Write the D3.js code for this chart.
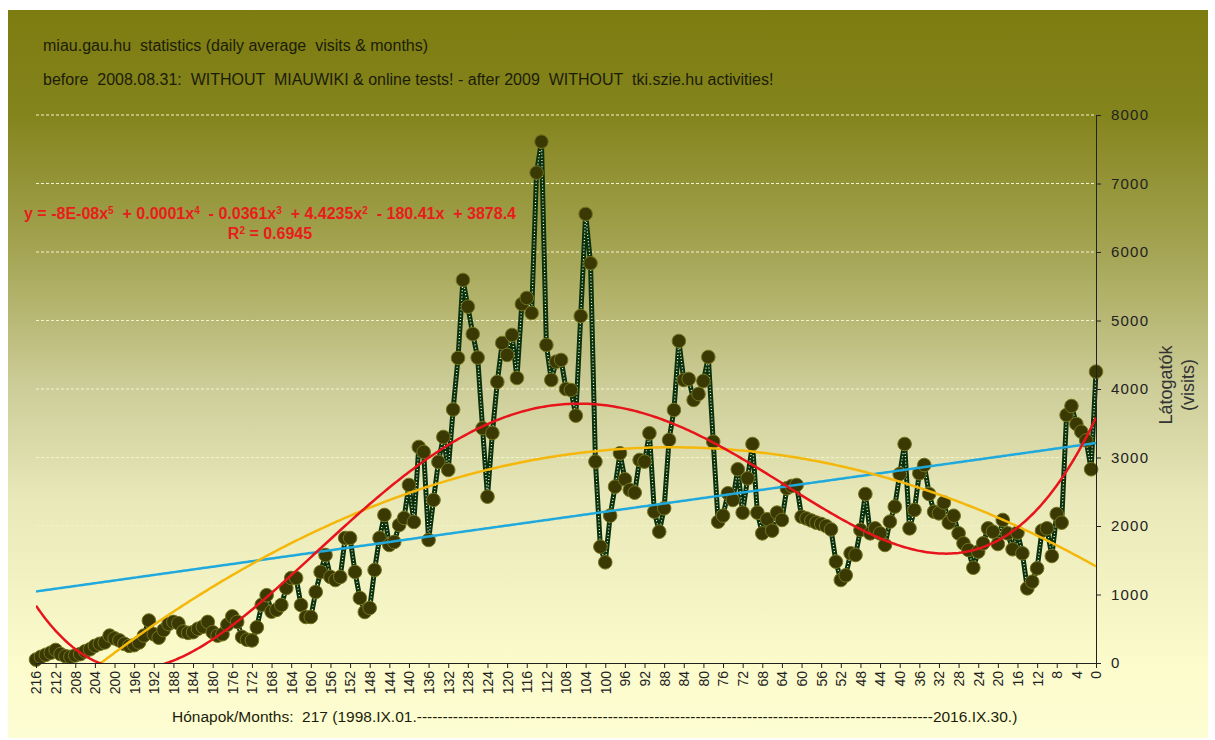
<!DOCTYPE html>
<html>
<head>
<meta charset="utf-8">
<script src="https://cdnjs.cloudflare.com/ajax/libs/d3/7.8.5/d3.min.js"></script>
<style>
  body { margin: 0; background: #fff; }
  text { font-family: "Liberation Sans", Arial, sans-serif; }
</style>
</head>
<body>
<svg id="chart" width="1215" height="740"></svg>
<script>
// months counted back from 2016.IX (216 = 1998.IX)
const months = d3.range(216, -1, -1);
const visits = [
  50, 90, 120, 150, 190, 130, 100, 90, 110, 130,
  170, 200, 250, 280, 300, 400, 360, 330, 280, 250,
  260, 300, 400, 620, 420, 370, 480, 570, 600, 580,
  460, 440, 450, 500, 530, 600, 450, 400, 420, 560,
  680, 600, 380, 340, 330, 520, 850, 990, 750,
  775, 847, 1095, 1241, 1241, 847, 672, 672, 1037, 1329,
  1577, 1256, 1212, 1256, 1825, 1825, 1329, 949, 745, 803,
  1358, 1825, 2161, 1723, 1767, 2015, 2117, 2599, 2059, 3154,
  3081, 1796, 2380, 2935, 3300, 2818, 3700,
  4453, 5592, 5202, 4803, 4458, 3427, 2428, 3358, 4103, 4672,
  4497, 4789, 4161, 5241, 5329, 5110, 7158, 7611, 4643, 4132,
  4399, 4424, 4000, 3986, 3611, 5066, 6555, 5836, 2940, 1698,
  1470, 2151, 2574, 3062, 2682, 2526, 2487, 2964, 2940, 3354,
  2209, 1917, 2259, 3256, 3694, 4701, 4132, 4146, 3840, 3927,
  4117, 4468, 3231,
  2063, 2151, 2478, 2380, 2828, 2195, 2696, 3197, 2195, 1893,
  2098, 1932, 2195, 2088, 2551, 2584, 2599, 2136, 2110, 2080,
  2050, 2030, 2000, 1950, 1479, 1212, 1280, 1601, 1577, 1942,
  2467,
  1893, 1966, 1893, 1723, 2063, 2283, 2759, 3197, 1966, 2234,
  2769, 2891, 2467, 2209, 2185, 2341, 2049, 2150, 1893, 1747,
  1650, 1391, 1625, 1747, 1966, 1917, 1737, 2088, 1893, 1660,
  1903, 1601, 1090, 1187, 1382, 1932, 1966, 1562, 2175, 2049,
  3621, 3752, 3489, 3377, 3250, 2828, 4253
];
const yTicks = d3.range(0, 8001, 1000);
const xTicks = d3.range(216, -1, -4);
const titleLines = [
  "miau.gau.hu  statistics (daily average  visits & months)",
  "before  2008.08.31:  WITHOUT  MIAUWIKI & online tests! - after 2009  WITHOUT  tki.szie.hu activities!"
];
const yTitle = ["Látogatók", "(visits)"];
const trends = [
  { deg: 1, color: "#1fa9dc" },
  { deg: 2, color: "#f4b70a" },
  { deg: 5, color: "#e8141c" }
];

const svg = d3.select("#chart");
const plotL = 36, plotR = 1096, plotT = 115, plotB = 663;

const x = d3.scaleLinear().domain([216, 0]).range([plotL, plotR]);
const y = d3.scaleLinear().domain([0, 8000]).range([plotB, plotT]);

// background gradient
const defs = svg.append("defs");
const grad = defs.append("linearGradient").attr("id", "bg")
  .attr("gradientUnits", "userSpaceOnUse")
  .attr("x1", 0).attr("y1", 10).attr("x2", 0).attr("y2", 737);
[[0, "#7c7c10"], [0.144, "#84841d"], [0.33, "#a4a453"], [0.52, "#cdcd99"],
 [0.674, "#e8e8b9"], [0.9, "#fbfbcc"], [1, "#fdfdd3"]].forEach(s =>
  grad.append("stop").attr("offset", s[0]).attr("stop-color", s[1]));

defs.append("clipPath").attr("id", "plotclip")
  .append("rect").attr("x", plotL).attr("y", plotT)
  .attr("width", plotR - plotL).attr("height", plotB - plotT);

svg.append("rect").attr("x", 8).attr("y", 10).attr("width", 1200).attr("height", 728)
  .attr("fill", "url(#bg)");

// titles
svg.selectAll(".title").data(titleLines).enter().append("text")
  .attr("x", 43).attr("y", (d, i) => 51 + i * 34)
  .attr("font-size", 16).attr("fill", "#1c1c08")
  .style("white-space", "pre")
  .text(d => d);

// gridlines
svg.append("g").selectAll("line").data(yTicks.filter(d => d > 0)).enter().append("line")
  .attr("x1", plotL).attr("x2", plotR)
  .attr("y1", d => y(d)).attr("y2", d => y(d))
  .attr("stroke", "#f4f4cc").attr("stroke-width", 1)
  .attr("stroke-dasharray", "3,2");

// data line
const line = d3.line().x((d, i) => x(months[i])).y(d => y(d));
svg.append("path").datum(visits).attr("d", line)
  .attr("fill", "none").attr("stroke", "#0b320b").attr("stroke-width", 5)
  .attr("stroke-linejoin", "round");
svg.append("path").datum(visits).attr("d", line)
  .attr("fill", "none").attr("stroke", "#ffffff").attr("stroke-width", 1.2)
  .attr("stroke-dasharray", "1,2.2");

svg.append("g").selectAll("circle").data(visits).enter().append("circle")
  .attr("cx", (d, i) => x(months[i])).attr("cy", d => y(d)).attr("r", 6.8)
  .attr("fill", "#3a3904").attr("stroke", "#74731e").attr("stroke-width", 1);

// least squares polynomial trendlines
function polyfit(xs, ys, deg) {
  const n = deg + 1;
  const A = Array.from({ length: n }, () => new Array(n + 1).fill(0));
  xs.forEach((xv, k) => {
    const p = d3.range(n).map(j => Math.pow(xv, j));
    for (let r = 0; r < n; r++) {
      for (let c = 0; c < n; c++) A[r][c] += p[r] * p[c];
      A[r][n] += p[r] * ys[k];
    }
  });
  for (let c = 0; c < n; c++) {
    let piv = c;
    for (let r = c + 1; r < n; r++) if (Math.abs(A[r][c]) > Math.abs(A[piv][c])) piv = r;
    [A[c], A[piv]] = [A[piv], A[c]];
    for (let r = 0; r < n; r++) {
      if (r === c) continue;
      const f = A[r][c] / A[c][c];
      for (let k = c; k <= n; k++) A[r][k] -= f * A[c][k];
    }
  }
  return A.map((row, r) => row[n] / row[r]);
}
const tOf = m => (108 - m) / 108;
const ts = months.map(tOf);
const samples = d3.range(216, -0.01, -0.5);
const trendG = svg.append("g").attr("clip-path", "url(#plotclip)");
trends.forEach(tr => {
  const coef = polyfit(ts, visits, tr.deg);
  const f = m => coef.reduce((s, c, j) => s + c * Math.pow(tOf(m), j), 0);
  trendG.append("path").datum(samples)
    .attr("d", d3.line().x(m => x(m)).y(m => y(f(m))))
    .attr("fill", "none").attr("stroke", tr.color).attr("stroke-width", 2.5);
});

// equation label
const eq = svg.append("text").attr("x", 270).attr("y", 219)
  .attr("text-anchor", "middle").attr("font-size", 16).attr("font-weight", "bold")
  .attr("fill", "#e81c1c").style("white-space", "pre");
[["y = -8E-08x", "5"], ["  + 0.0001x", "4"], ["  - 0.0361x", "3"], ["  + 4.4235x", "2"], ["  - 180.41x  + 3878.4", null]]
  .forEach(p => {
    eq.append("tspan").text(p[0]);
    if (p[1]) eq.append("tspan").attr("font-size", 10).attr("baseline-shift", "super").text(p[1]);
  });
const r2 = svg.append("text").attr("x", 270).attr("y", 239)
  .attr("text-anchor", "middle").attr("font-size", 16).attr("font-weight", "bold")
  .attr("fill", "#e81c1c");
r2.append("tspan").text("R");
r2.append("tspan").attr("font-size", 10).attr("baseline-shift", "super").text("2");
r2.append("tspan").text(" = 0.6945");

// axes
const yAxis = svg.append("g").attr("transform", `translate(${plotR},0)`)
  .call(d3.axisRight(y).tickValues(yTicks).tickSize(5).tickPadding(10).tickFormat(d3.format("d")));
yAxis.selectAll("text").attr("font-size", 15).attr("fill", "#222").style("letter-spacing", "1.2px");
yAxis.selectAll("line, path").attr("stroke", "#222");

const xAxis = svg.append("g").attr("transform", `translate(0,${plotB})`)
  .call(d3.axisBottom(x).tickValues(xTicks).tickSize(5).tickSizeOuter(0));
xAxis.select(".domain").attr("d", `M${plotL},0.5H${plotR}`).attr("stroke", "#222");
xAxis.selectAll("line").attr("stroke", "#222");
xAxis.selectAll("text")
  .attr("transform", "rotate(-90)").attr("x", -8).attr("y", 0).attr("dy", "0.35em")
  .attr("text-anchor", "end").attr("font-size", 14).attr("fill", "#222");

// axis titles
svg.selectAll(".ytitle").data(yTitle).enter().append("text")
  .attr("transform", (d, i) => `translate(${1172 + i * 22},385) rotate(-90)`)
  .attr("text-anchor", "middle").attr("font-size", 18).attr("fill", "#333")
  .text(d => d);

svg.append("text").attr("x", 172).attr("y", 722)
  .attr("font-size", 15.5).attr("fill", "#1c1c08").style("white-space", "pre")
  .text("Hónapok/Months:  217 (1998.IX.01." + "-".repeat(100) + "2016.IX.30.)");
</script>
</body>
</html>
